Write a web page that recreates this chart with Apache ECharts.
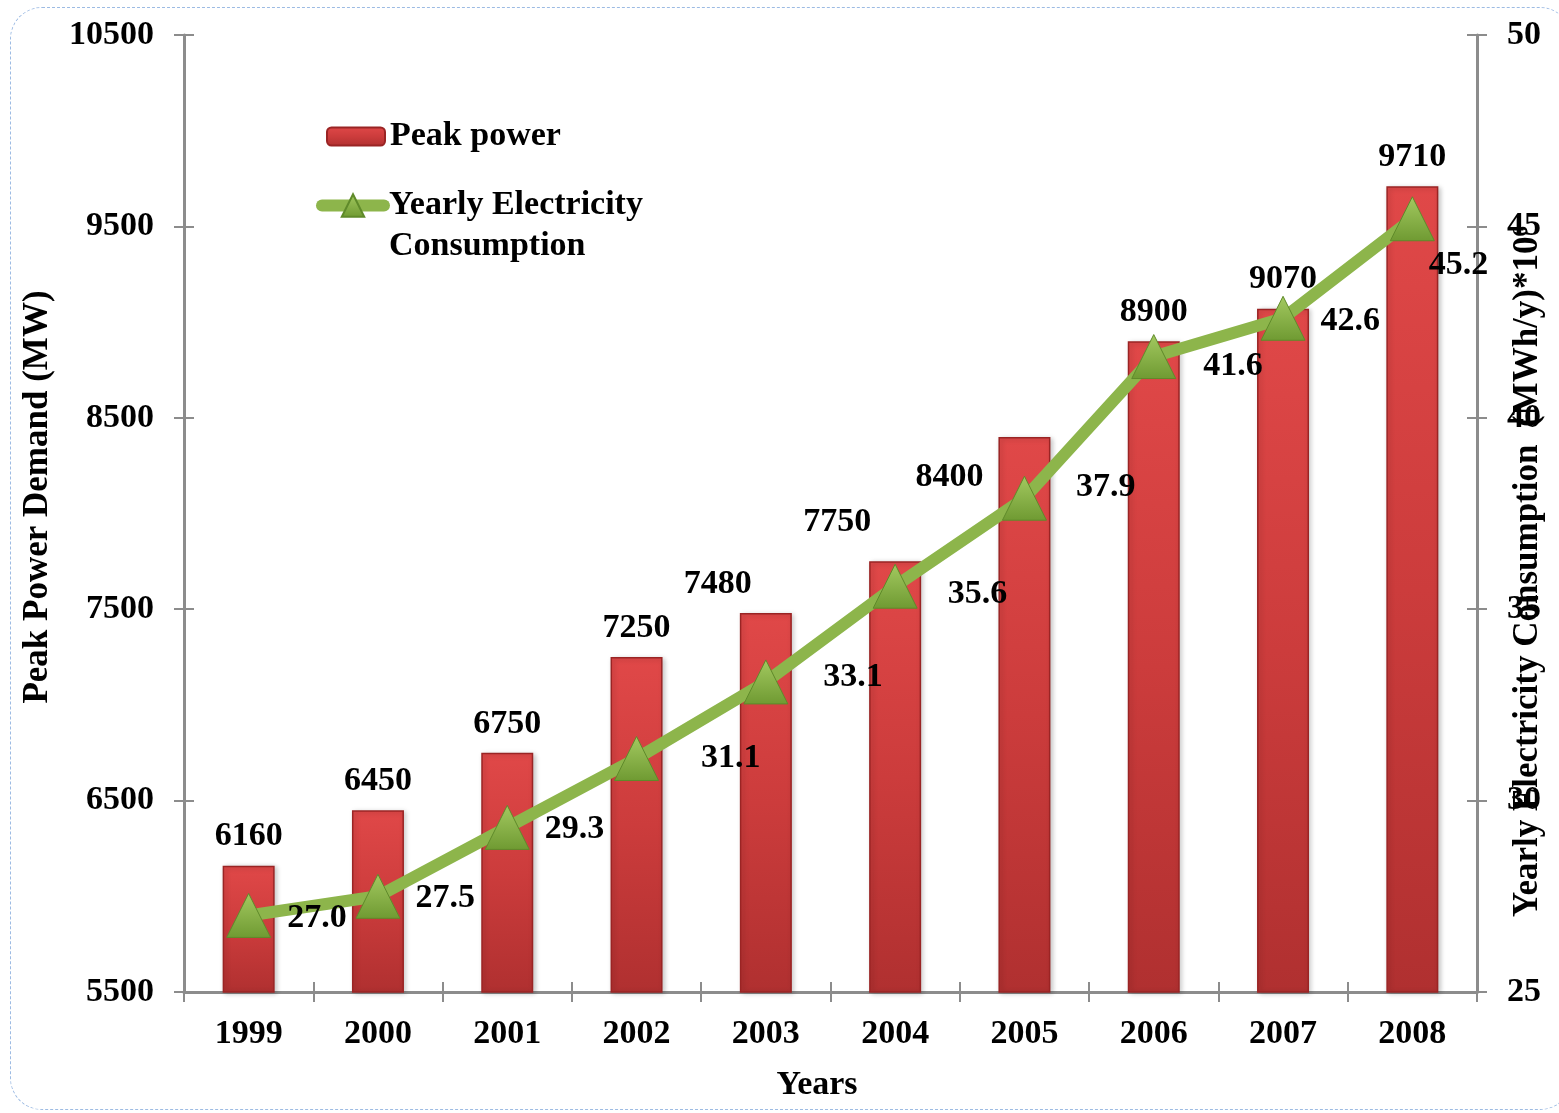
<!DOCTYPE html>
<html>
<head>
<meta charset="utf-8">
<title>Peak Power Demand and Yearly Electricity Consumption</title>
<script src="https://cdn.jsdelivr.net/npm/echarts@6/dist/echarts.min.js"></script>
<style>
  html, body { margin: 0; padding: 0; background: #ffffff; overflow: hidden; }
  #frame {
    position: absolute; left: 10px; top: 7px; width: 1562px; height: 1103px;
    border: 1px dashed #9dbbe3; border-radius: 32px; box-sizing: border-box;
  }
  #chart { position: absolute; left: 0; top: 0; width: 1559px; height: 1113px; }
</style>
</head>
<body>
<div id="frame"></div>
<div id="chart"></div>
<script>
// Years on the category axis
const years = ['1999', '2000', '2001', '2002', '2003', '2004', '2005', '2006', '2007', '2008'];
// Peak power demand, MW (left axis)
const peakPower = [6160, 6450, 6750, 7250, 7480, 7750, 8400, 8900, 9070, 9710];
// Yearly electricity consumption, MWh/y × 10^6 (right axis)
const consumption = [27.0, 27.5, 29.3, 31.1, 33.1, 35.6, 37.9, 41.6, 42.6, 45.2];

// Small nudges so value labels do not collide with the line
const barLabelShift = [[0,0],[0,0],[0,0],[0,0],[-48,0],[-58,-10],[-75,69],[0,0],[0,0],[0,0]];
const lineLabelShift = [[11,3],[10,2],[10,2],[37,0],[30,-5],[25,8],[24,-11],[22,10],[10,3],[-11,46]];

const FONT = "'Liberation Serif', 'Times New Roman', serif";
const AXIS_GRAY = '#8c8c8c';
const bold = { fontFamily: FONT, fontWeight: 'bold', fontSize: 34, color: '#000' };
const plain = v => String(v);

const barFill = new echarts.graphic.LinearGradient(0, 0, 0, 1, [
  { offset: 0, color: '#e04848' },
  { offset: 0.5, color: '#cc3c3c' },
  { offset: 1, color: '#b03030' }
]);
const markerFill = new echarts.graphic.LinearGradient(0, 0, 0, 1, [
  { offset: 0, color: '#a3c960' },
  { offset: 1, color: '#6f9a32' }
]);

const chart = echarts.init(document.getElementById('chart'), null, { renderer: 'canvas' });

const option = {
  backgroundColor: 'transparent',
  animation: false,
  grid: { left: 184, right: 82, top: 35, bottom: 121, outerBoundsMode: 'none', containLabel: false },
  legend: [
    {
      data: ['Peak power'],
      orient: 'vertical', left: 321, top: 111,
      itemWidth: 58, itemHeight: 18,
      textStyle: Object.assign({}, bold, { lineHeight: 41 })
    },
    {
      data: ['Yearly Electricity\nConsumption'],
      orient: 'vertical', left: 311, top: 139,
      itemWidth: 62, itemHeight: 28,
      lineStyle: { width: 12, cap: 'round', color: '#8db54b' },
      formatter: name => ' \n' + name,
      textStyle: Object.assign({}, bold, { lineHeight: 41 })
    }
  ],
  xAxis: [
    {
      type: 'category', data: years, position: 'bottom',
      name: 'Years', nameLocation: 'middle', nameGap: 76, nameMoveOverlap: false,
      nameTextStyle: Object.assign({}, bold, { padding: [0, 27, 0, 0] }),
      axisLine: { lineStyle: { color: AXIS_GRAY, width: 3 } },
      axisTick: { show: true, inside: false, length: 10, lineStyle: { color: AXIS_GRAY, width: 2 } },
      axisLabel: Object.assign({}, bold, { margin: 25 }),
      splitLine: { show: false }
    },
    {
      type: 'category', data: years, position: 'bottom',
      axisLine: { show: false },
      axisTick: { show: true, inside: true, length: 10, lineStyle: { color: AXIS_GRAY, width: 2 } },
      axisLabel: { show: false },
      splitLine: { show: false }
    }
  ],
  yAxis: [
    {
      type: 'value', position: 'left', min: 5500, max: 10500, interval: 1000,
      name: 'Peak Power Demand (MW)', nameLocation: 'middle', nameRotate: 90, nameGap: 129,
      nameMoveOverlap: false,
      nameTextStyle: Object.assign({}, bold, { fontSize: 35, padding: [0, 0, 0, 33] }),
      axisLine: { show: true, lineStyle: { color: AXIS_GRAY, width: 3 } },
      axisTick: { show: true, inside: false, length: 10, lineStyle: { color: AXIS_GRAY, width: 2 } },
      axisLabel: Object.assign({}, bold, { margin: 30, formatter: plain }),
      splitLine: { show: false }
    },
    {
      type: 'value', position: 'right', min: 25, max: 50, interval: 5,
      name: 'Yearly Electricity Consumption  (MWh/y)*10\u2076', nameLocation: 'middle', nameRotate: 90, nameGap: 33,
      nameMoveOverlap: false,
      nameTextStyle: Object.assign({}, bold, { fontSize: 35, padding: [0, 116, 0, 0] }),
      axisLine: { show: true, lineStyle: { color: AXIS_GRAY, width: 3 } },
      axisTick: { show: true, inside: false, length: 10, lineStyle: { color: AXIS_GRAY, width: 2 } },
      axisLabel: Object.assign({}, bold, { margin: 30, formatter: plain }),
      splitLine: { show: false }
    },
    {
      type: 'value', position: 'left', min: 5500, max: 10500, interval: 1000,
      axisLine: { show: false },
      axisTick: { show: true, inside: true, length: 10, lineStyle: { color: AXIS_GRAY, width: 2 } },
      axisLabel: { show: false },
      splitLine: { show: false }
    },
    {
      type: 'value', position: 'right', min: 25, max: 50, interval: 5,
      axisLine: { show: false },
      axisTick: { show: true, inside: true, length: 10, lineStyle: { color: AXIS_GRAY, width: 2 } },
      axisLabel: { show: false },
      splitLine: { show: false }
    }
  ],
  series: [
    {
      name: 'Peak power',
      type: 'bar',
      xAxisIndex: 0, yAxisIndex: 0,
      barWidth: 52,
      itemStyle: {
        color: barFill, borderColor: '#9a2424', borderWidth: 1.5,
        shadowBlur: 5, shadowColor: 'rgba(0,0,0,0.22)', shadowOffsetX: 2, shadowOffsetY: 1
      },
      label: Object.assign({ show: true, position: 'top', distance: 12 }, bold),
      data: peakPower.map((v, i) => ({ value: v, label: { offset: barLabelShift[i] } })),
      z: 2
    },
    {
      name: 'Yearly Electricity\nConsumption',
      type: 'line',
      xAxisIndex: 0, yAxisIndex: 1,
      symbol: 'triangle', symbolSize: 44,
      lineStyle: { color: '#8db54b', width: 12 },
      itemStyle: { color: markerFill, borderColor: '#5f8a2a', borderWidth: 1 },
      label: Object.assign({
        show: true, position: 'right', distance: 5,
        formatter: p => Number(p.value).toFixed(1)
      }, bold),
      data: consumption.map((v, i) => ({ value: v, label: { offset: lineLabelShift[i] } })),
      z: 3
    }
  ]
};

chart.setOption(option);
</script>
</body>
</html>
